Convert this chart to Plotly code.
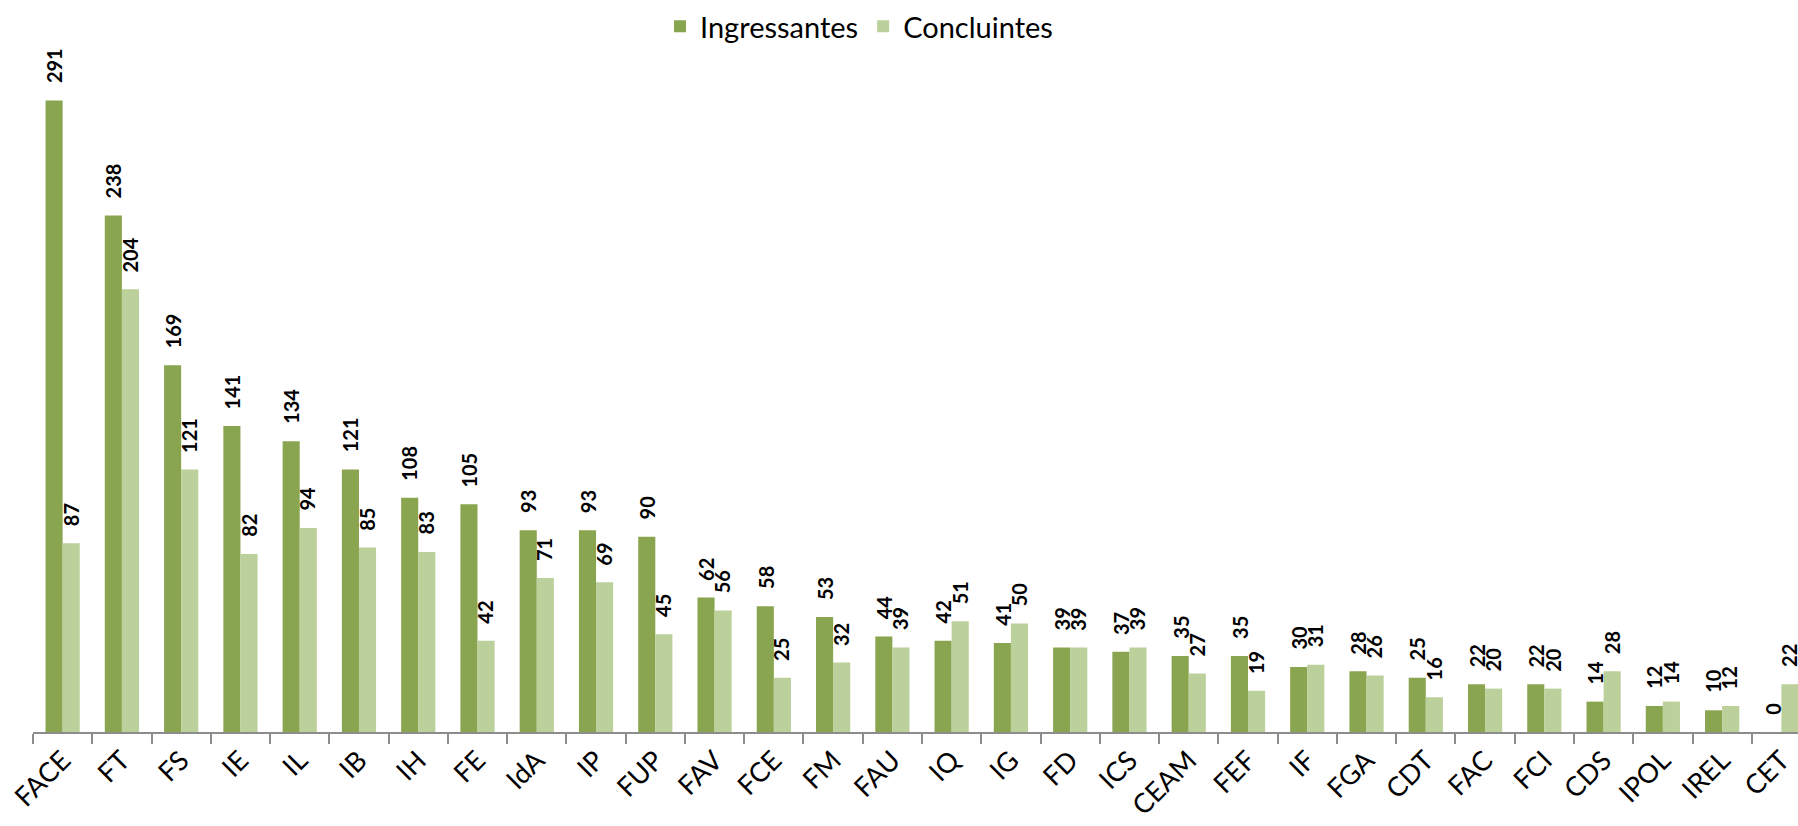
import plotly.graph_objects as go

categories = ["FACE", "FT", "FS", "IE", "IL", "IB", "IH", "FE", "IdA", "IP",
              "FUP", "FAV", "FCE", "FM", "FAU", "IQ", "IG", "FD", "ICS", "CEAM",
              "FEF", "IF", "FGA", "CDT", "FAC", "FCI", "CDS", "IPOL", "IREL", "CET"]
ingressantes = [291, 238, 169, 141, 134, 121, 108, 105, 93, 93,
                90, 62, 58, 53, 44, 42, 41, 39, 37, 35,
                35, 30, 28, 25, 22, 22, 14, 12, 10, 0]
concluintes = [87, 204, 121, 82, 94, 85, 83, 42, 71, 69,
               45, 56, 25, 32, 39, 51, 50, 39, 39, 27,
               19, 31, 26, 16, 20, 20, 28, 14, 12, 22]

series_names = ["Ingressantes", "Concluintes"]
colors = ["#8AA54F", "#BBD09A"]

FONT = "Lato"

fig = go.Figure()
for name, vals, col in zip(series_names, [ingressantes, concluintes], colors):
    fig.add_trace(go.Bar(
        name=name, x=categories, y=vals,
        marker=dict(color=col, line=dict(width=0)),
    ))

# data labels (rotated, above bars)
annotations = []
for si, vals in enumerate([ingressantes, concluintes]):
    shift = -8.6 if si == 0 else 7.8
    for c, v in zip(categories, vals):
        annotations.append(dict(
            x=c, y=v, xref="x", yref="y", text=str(v), showarrow=False,
            textangle=-90, xanchor="center", yanchor="bottom",
            xshift=shift, yshift=15,
            font=dict(family=FONT, size=20, color="#000000", weight="bold"),
        ))

fig.update_layout(
    width=1798, height=826,
    margin=dict(l=33, r=0, t=60, b=94),
    paper_bgcolor="white", plot_bgcolor="white",
    barmode="group", bargap=0.423, bargroupgap=0,
    annotations=annotations,
    showlegend=True,
    legend=dict(orientation="h", x=0.468, xanchor="center", y=1.05, yanchor="middle",
                font=dict(family=FONT, size=29, color="#000000"),
                itemwidth=30, tracegroupgap=0, bgcolor="rgba(0,0,0,0)"),
    xaxis=dict(
        range=[-0.5, 29.28], showgrid=False, showline=True, linecolor="#8C8C8C",
        linewidth=1.7, ticks="outside", tickson="boundaries", ticklen=10,
        tickcolor="#8C8C8C", tickwidth=1.7, tickangle=-45,
        tickfont=dict(family=FONT, size=27, color="#000000"),
        fixedrange=True, automargin=False,
    ),
    yaxis=dict(range=[0, 309.7], visible=False, showgrid=False, zeroline=False),
)

# remove the default page margin so the figure fills the window exactly
fig.write_html(
    "out.html",
    config={"displayModeBar": False},
    post_script="document.body.style.margin='0';document.body.style.overflow='hidden';",
)
